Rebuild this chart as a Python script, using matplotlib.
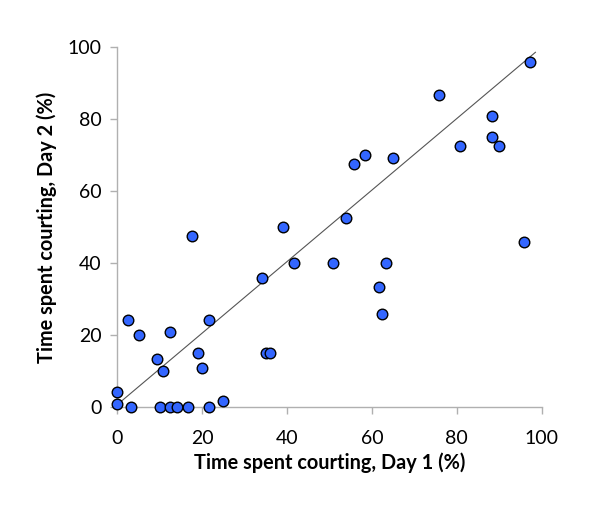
import matplotlib.pyplot as plt

# Time spent courting (%) for each male
day1 = [0, 0, 3.4, 10.1, 12.5, 14.2, 16.7, 21.7, 25.0, 2.7,
        5.2, 9.3, 10.9, 12.5, 17.6, 19.1, 20.1, 21.7, 34.2, 35.0,
        36.0, 39.1, 41.6, 50.9, 54.0, 63.3, 61.6, 62.4, 95.7, 97.3,
        75.8, 88.3, 88.3, 89.9, 80.8, 58.4, 55.8, 64.9]
day2 = [4.0, 0.8, 0, 0, 0, 0, 0, 0, 1.7, 24.2,
        20.0, 13.4, 9.9, 20.8, 47.5, 15.0, 10.9, 24.2, 35.8, 15.0,
        15.0, 50.0, 40.0, 40.0, 52.5, 40.0, 33.3, 25.8, 45.8, 95.9,
        86.7, 80.9, 75.1, 72.6, 72.6, 70.0, 67.5, 69.2]

# trend line end points
fit_x = [0.9, 98.5]
fit_y = [1.4, 98.6]

ticks = [0, 20, 40, 60, 80, 100]

plt.rcParams['font.family'] = ['Lato', 'DejaVu Sans']

fig = plt.figure(figsize=(6, 5.12), dpi=100)
ax = fig.add_axes([0.195, 0.2057, 0.708, 0.702])

ax.plot(fit_x, fit_y, color='#555555', linewidth=0.8, zorder=2)
ax.scatter(day1, day2, s=58, color='#3366ff', edgecolors='black',
           linewidths=1.0, zorder=3, clip_on=False)

ax.set_xlim(0, 100)
ax.set_ylim(0, 100)
ax.set_xticks(ticks)
ax.set_yticks(ticks)

for side in ['top', 'right']:
    ax.spines[side].set_visible(False)
for side in ['left', 'bottom']:
    ax.spines[side].set_color('#b0b0b0')
    ax.spines[side].set_linewidth(1.0)
ax.tick_params(direction='out', length=5, width=1.0, color='#b0b0b0',
               labelsize=14)
ax.tick_params(axis='x', pad=12)
ax.tick_params(axis='y', pad=6)

ax.set_xlabel("Time spent courting, Day 1 (%)", fontsize=14.3,
              fontweight='bold', labelpad=4)
ax.set_ylabel("Time spent courting, Day 2 (%)", fontsize=14.3,
              fontweight='bold', labelpad=8)

fig.savefig("out.png", dpi=100)
